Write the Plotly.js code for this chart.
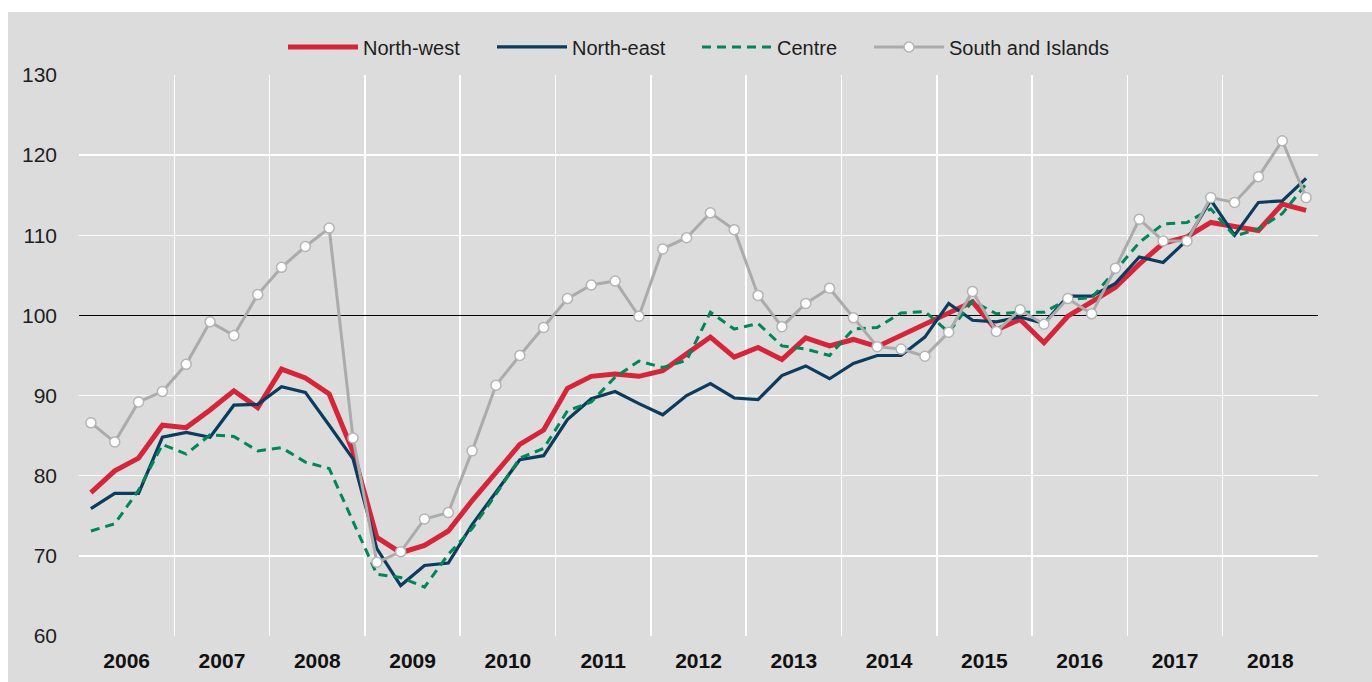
<!DOCTYPE html>
<html>
<head>
<meta charset="utf-8">
<script src="https://cdn.plot.ly/plotly-3.0.1.min.js"></script>
<style>
html,body{margin:0;padding:0;background:#ffffff;}
#chart{position:absolute;left:8px;top:12px;width:1364px;height:670px;}
</style>
</head>
<body>
<div id="chart"></div>
<script>
const years = ['2006','2007','2008','2009','2010','2011','2012','2013','2014','2015','2016','2017','2018'];
const quartersPerYear = 4;

const northWest = [77.9,80.6,82.2,86.3,86.0,88.2,90.6,88.5,93.3,92.2,90.2,83.0,
  72.3,70.4,71.3,73.1,76.9,80.4,83.9,85.7,90.9,92.4,92.7,92.4,
  93.1,95.2,97.3,94.8,96.0,94.5,97.2,96.2,97.0,96.1,97.5,98.9,
  100.3,101.7,98.2,99.5,96.6,99.9,101.7,103.5,106.4,109.0,109.8,111.6,
  111.1,110.6,113.9,113.1];
const northEast = [75.9,77.8,77.8,84.8,85.4,84.8,88.8,88.9,91.1,90.4,86.3,82.1,
  70.9,66.3,68.8,69.1,73.9,77.9,82.0,82.5,87.0,89.6,90.5,89.0,
  87.6,90.0,91.5,89.7,89.5,92.5,93.7,92.1,94.0,95.0,95.0,97.3,
  101.5,99.4,99.2,99.8,99.0,102.4,102.4,104.0,107.3,106.6,109.4,114.4,
  110.0,114.1,114.3,117.1];
const centre = [73.1,74.0,78.2,83.9,82.7,85.1,84.9,83.1,83.5,81.7,80.9,74.4,
  67.7,67.3,66.1,70.2,73.4,77.7,82.2,83.4,88.1,89.2,92.3,94.3,
  93.5,94.4,100.4,98.3,99.0,96.2,95.8,95.0,98.3,98.5,100.3,100.5,
  97.9,101.8,100.2,100.4,100.4,102.0,102.2,105.6,109.1,111.4,111.6,113.3,
  109.9,110.8,112.7,116.4];
const southIslands = [86.6,84.2,89.2,90.5,93.9,99.2,97.5,102.6,106.0,108.6,110.9,84.7,
  69.2,70.5,74.6,75.4,83.1,91.3,95.0,98.5,102.1,103.8,104.3,99.9,
  108.3,109.7,112.8,110.7,102.5,98.6,101.5,103.4,99.7,96.1,95.8,94.9,
  97.9,103.0,98.0,100.7,98.9,102.1,100.2,105.9,112.0,109.3,109.3,114.7,
  114.1,117.3,121.8,114.7];
const yTicks = [60,70,80,90,100,110,120,130];
const baseIndex = 100;

const nQ = years.length * quartersPerYear;
const xPos = northWest.map((_, i) => i + 0.5);
const yearBounds = years.map((_, k) => k * quartersPerYear).concat([nQ]);
const yearCenters = years.map((_, k) => k * quartersPerYear + quartersPerYear / 2);
const yMin = yTicks[0], yMax = yTicks[yTicks.length - 1];

const sans = '"Liberation Sans", Arial, sans-serif';

const traces = [
  {x: xPos, y: northWest, name: 'North-west', type: 'scatter', mode: 'lines',
   line: {color: '#d5253a', width: 5}, legendwidth: 124},
  {x: xPos, y: northEast, name: 'North-east', type: 'scatter', mode: 'lines',
   line: {color: '#0c3b5e', width: 3.2}, legendwidth: 120},
  {x: xPos, y: centre, name: 'Centre', type: 'scatter', mode: 'lines',
   line: {color: '#008657', width: 3, dash: '9px,6px'}, legendwidth: 87},
  {x: xPos, y: southIslands, name: 'South and Islands', type: 'scatter', mode: 'lines+markers',
   line: {color: '#ababab', width: 3}, legendwidth: 160,
   marker: {symbol: 'circle', size: 10, color: '#ffffff', line: {color: '#b4b4b4', width: 1.5}}}
];

// invisible helper trace: carries the year-label axis (x2) and the base-100 reference axis (y2)
traces.push({x: [0, nQ], y: [0, 0], xaxis: 'x2', yaxis: 'y2', mode: 'lines',
  line: {width: 0, color: 'rgba(0,0,0,0)'}, showlegend: false, hoverinfo: 'skip'});

const layout = {
  width: 1364, height: 670,
  paper_bgcolor: '#dcdcdc', plot_bgcolor: '#dcdcdc',
  margin: {l: 71, r: 54, t: 63, b: 46},
  showlegend: true,
  legend: {orientation: 'h', x: 0.5, xanchor: 'center', y: 1.05, yanchor: 'middle',
    bgcolor: 'rgba(0,0,0,0)', font: {family: sans, size: 20, color: '#1e1e1e'},
    itemwidth: 70, tracegroupgap: 0},
  xaxis: {range: [0, nQ], tickvals: yearBounds, ticktext: yearBounds.map(() => ''),
    showgrid: true, gridcolor: '#ffffff', gridwidth: 1.5, zeroline: false,
    showline: false, ticks: '', fixedrange: true},
  xaxis2: {overlaying: 'x', side: 'bottom', range: [0, nQ], tickvals: yearCenters, ticktext: years,
    showgrid: false, zeroline: false, ticks: '', showline: false,
    tickfont: {family: sans, size: 21, color: '#111111', weight: 'bold'}, ticklabelstandoff: 10},
  yaxis: {range: [yMin, yMax], tickvals: yTicks, ticktext: yTicks.map(String),
    showgrid: true, gridcolor: '#ffffff', gridwidth: 1.5, zeroline: false, showline: false,
    ticks: '', tickfont: {family: sans, size: 21, color: '#1e1e1e'}, ticklabelstandoff: 21},
  yaxis2: {overlaying: 'y', side: 'left', range: [yMin - baseIndex, yMax - baseIndex],
    showgrid: false, showticklabels: false, ticks: '', showline: false,
    zeroline: true, zerolinecolor: '#000000', zerolinewidth: 1.5}
};

Plotly.newPlot('chart', traces, layout, {displayModeBar: false, staticPlot: true});
</script>
</body>
</html>
